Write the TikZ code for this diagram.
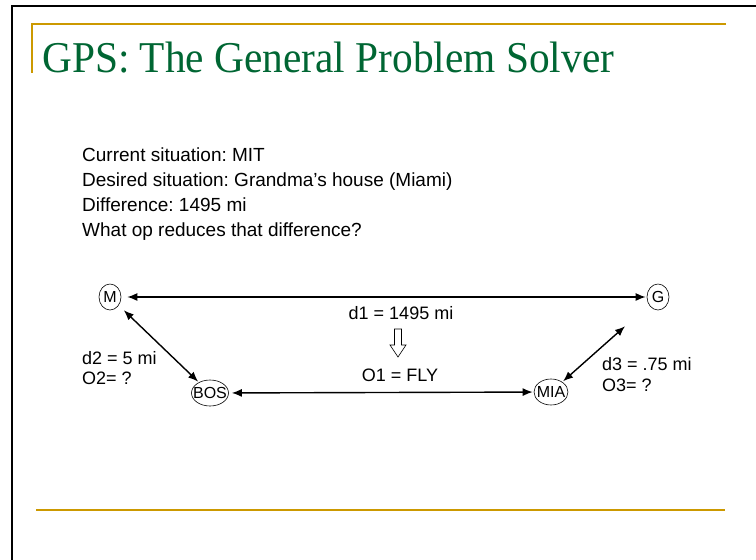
\documentclass[tikz,border=0pt]{standalone}
\usepackage{fontspec}
\setmainfont{Liberation Sans}
\newfontfamily\titlefont{Liberation Serif}
\usepackage{xcolor}
\usetikzlibrary{arrows.meta,positioning,shapes.geometric}
\definecolor{slidegreen}{RGB}{0,102,51}
\definecolor{slidegold}{RGB}{204,153,0}
\frenchspacing

\begin{document}
\begin{tikzpicture}[x=1pt, y=-1pt,
    city_node/.style={ellipse, draw=black, line width=0.6pt, inner xsep=-6pt, inner ysep=0pt, minimum width=22pt, minimum height=26pt, font=\fontsize{16}{19}\selectfont},
    dist_arrow/.style={{Latex[length=10pt,width=8pt]}-{Latex[length=10pt,width=8pt]}, line width=1.4pt},
    body_text/.style={anchor=base west, inner sep=0pt, font=\fontsize{19}{23}\selectfont},
    diag_text/.style={inner sep=0pt, font=\fontsize{18}{22}\selectfont},
    gold_rule/.style={draw=slidegold, line width=1.6pt}
]
    \useasboundingbox (0,0) rectangle (756,560);
    % slide frame and rules
    \draw[line width=2.6pt] (756,6) -- (12,6) -- (12,560);
    \draw[gold_rule] (726,24) -- (32,24) -- (32,73);
    \draw[gold_rule, line width=2.4pt] (36,510) -- (725,510);
    % title and text
    \node[anchor=base west, inner sep=0pt, text=slidegreen, xscale=0.94, font=\titlefont\fontsize{44}{50}\selectfont] (title) at (42,72) {GPS: The General Problem Solver};
    \node[body_text] (cur) at (82,161) {Current situation: MIT};
    \node[body_text] (des) at (82,186) {Desired situation: Grandma’s house (Miami)};
    \node[body_text] (diff) at (82,211) {Difference: 1495 mi};
    \node[body_text] (whatop) at (82,236) {What op reduces that difference?};
    % the cities
    \node[city_node] (M) at (110,297) {M};
    \node[city_node] (G) at (658,297) {G};
    \node[city_node, minimum width=37pt] (BOS) at (210,393) {BOS};
    \node[city_node, minimum width=34pt] (MIA) at (551,392) {MIA};
    \draw[dist_arrow, shorten <=6pt, shorten >=1pt] (M) -- (G);
    \draw[dist_arrow, shorten <=3pt, shorten >=1pt] (BOS) -- (MIA);
    \draw[dist_arrow, shorten <=7pt, shorten >=1pt] (M) -- (BOS);
    \draw[dist_arrow, shorten <=32pt, shorten >=1pt] (G) -- (MIA);
    % labels
    \node[diag_text] (d1) at (401,313) {d1 = 1495 mi};
    \node[diag_text] (o1) at (400,375) {O1 = FLY};
    \draw[line width=0.6pt] (394.5,329) -- (401.5,329) -- (401.5,345) -- (406,345) -- (398,357) -- (390,345) -- (394.5,345) -- cycle;
    \node[diag_text, anchor=west] (d2) at (82,358) {d2 = 5 mi};
    \node[diag_text, anchor=west] (o2) at (82,378) {O2= ?};
    \node[diag_text, anchor=west] (d3) at (602,364) {d3 = .75 mi};
    \node[diag_text, anchor=west] (o3) at (602,385) {O3= ?};
\end{tikzpicture}
\end{document}
